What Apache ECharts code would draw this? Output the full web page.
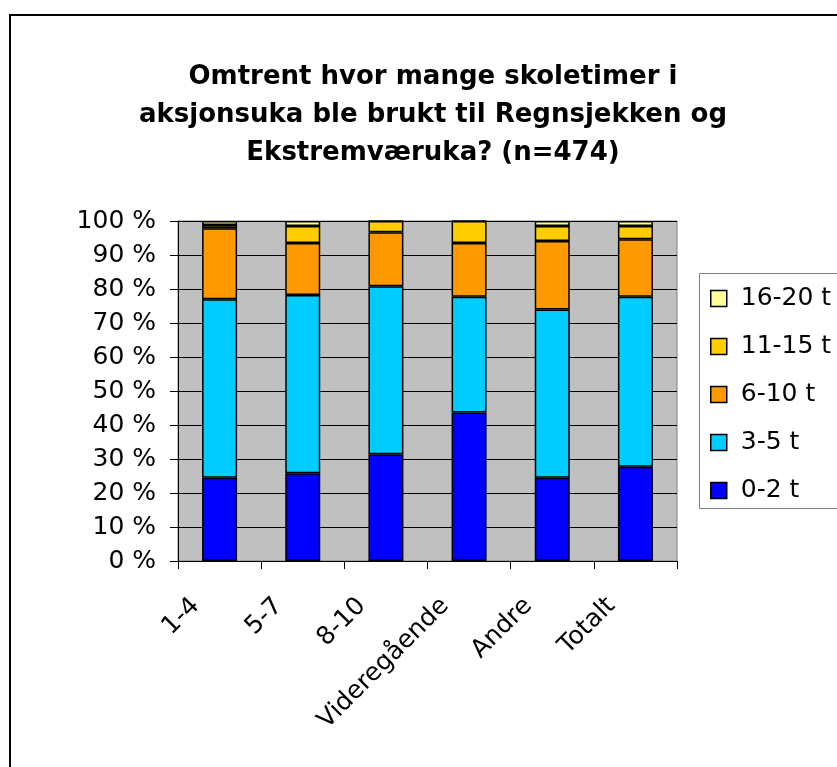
<!DOCTYPE html>
<html>
<head>
<meta charset="utf-8">
<script src="https://cdn.jsdelivr.net/npm/echarts@6/dist/echarts.min.js"></script>
<style>
  html, body { margin: 0; padding: 0; background: #fff; }
  #chart { width: 837px; height: 767px; }
</style>
</head>
<body>
<div id="chart"></div>
<script>
const categories = ['1-4', '5-7', '8-10', 'Videregående', 'Andre', 'Totalt']
const seriesNames = ['0-2 t', '3-5 t', '6-10 t', '11-15 t', '16-20 t']
const colors = ['#0000FF', '#00CCFF', '#FF9900', '#FFCC00', '#FFFF99']
// percent shares per category, one array per time band
const h0to2 = [24.5, 25.8, 31.4, 43.7, 24.5, 27.7]
const h3to5 = [52.5, 52.4, 49.4, 34.0, 49.5, 50.0]
const h6to10 = [20.9, 15.3, 15.9, 15.8, 20.1, 16.9]
const h11to15 = [0.9, 5.0, 3.3, 6.5, 4.4, 3.9]
const h16to20 = [1.2, 1.5, 0, 0, 1.5, 1.5]
const yTicks = [0, 10, 20, 30, 40, 50, 60, 70, 80, 90, 100]

const values = [h0to2, h3to5, h6to10, h11to15, h16to20]
const font = 'DejaVu Sans, Arial, sans-serif'

const chart = echarts.init(document.getElementById('chart'))

const option = {
  animation: false,
  backgroundColor: '#fff',
  title: {
    text: 'Omtrent hvor mange skoletimer i\naksjonsuka ble brukt til Regnsjekken og\nEkstremværuka? (n=474)',
    left: 428,
    top: 53,
    textAlign: 'center',
    textStyle: { fontFamily: font, fontSize: 26, fontWeight: 'bold', color: '#000', lineHeight: 38 }
  },
  legend: {
    orient: 'vertical',
    left: 710,
    top: 286,
    padding: 0,
    itemWidth: 16,
    itemHeight: 16,
    itemGap: 23,
    icon: 'rect',
    data: seriesNames.slice().reverse(),
    itemStyle: { borderColor: '#000', borderWidth: 1.5 },
    textStyle: { fontFamily: font, fontSize: 25, color: '#000', lineHeight: 24, padding: [0, 0, 0, 9] }
  },
  grid: {
    left: 178, right: 160, top: 221, bottom: 206,
    show: true,
    backgroundColor: '#C0C0C0',
    borderColor: '#808080',
    borderWidth: 1
  },
  xAxis: {
    type: 'category',
    data: categories,
    axisLine: { lineStyle: { color: '#000', width: 1 } },
    axisTick: { show: true, length: 8, lineStyle: { color: '#000' } },
    axisLabel: { rotate: 45, margin: 17, padding: [0, 34, 0, 0], fontFamily: font, fontSize: 25, color: '#000' }
  },
  yAxis: {
    type: 'value',
    min: 0, max: 100, interval: 10,
    axisLine: { show: true, lineStyle: { color: '#000', width: 1 } },
    axisTick: { show: true, length: 8, lineStyle: { color: '#000' } },
    splitLine: { lineStyle: { color: '#000', width: 1 } },
    axisLabel: {
      margin: 22, fontFamily: font, fontSize: 25, color: '#000',
      formatter: v => yTicks.includes(v) ? v + ' %' : ''
    }
  },
  series: seriesNames.map((name, i) => ({
    name: name,
    type: 'bar',
    stack: 'total',
    barWidth: 35,
    data: values[i],
    itemStyle: { color: colors[i], borderColor: '#000', borderWidth: 1.5 }
  })),
  graphic: [
    { type: 'rect', z: -1, shape: { x: 10, y: 15, width: 900, height: 900 }, style: { fill: 'none', stroke: '#000', lineWidth: 2 } },
    { type: 'rect', z: -1, shape: { x: 699.5, y: 273.5, width: 200, height: 235 }, style: { fill: '#fff', stroke: '#808080', lineWidth: 1 } }
  ]
}

chart.setOption(option)
</script>
</body>
</html>
